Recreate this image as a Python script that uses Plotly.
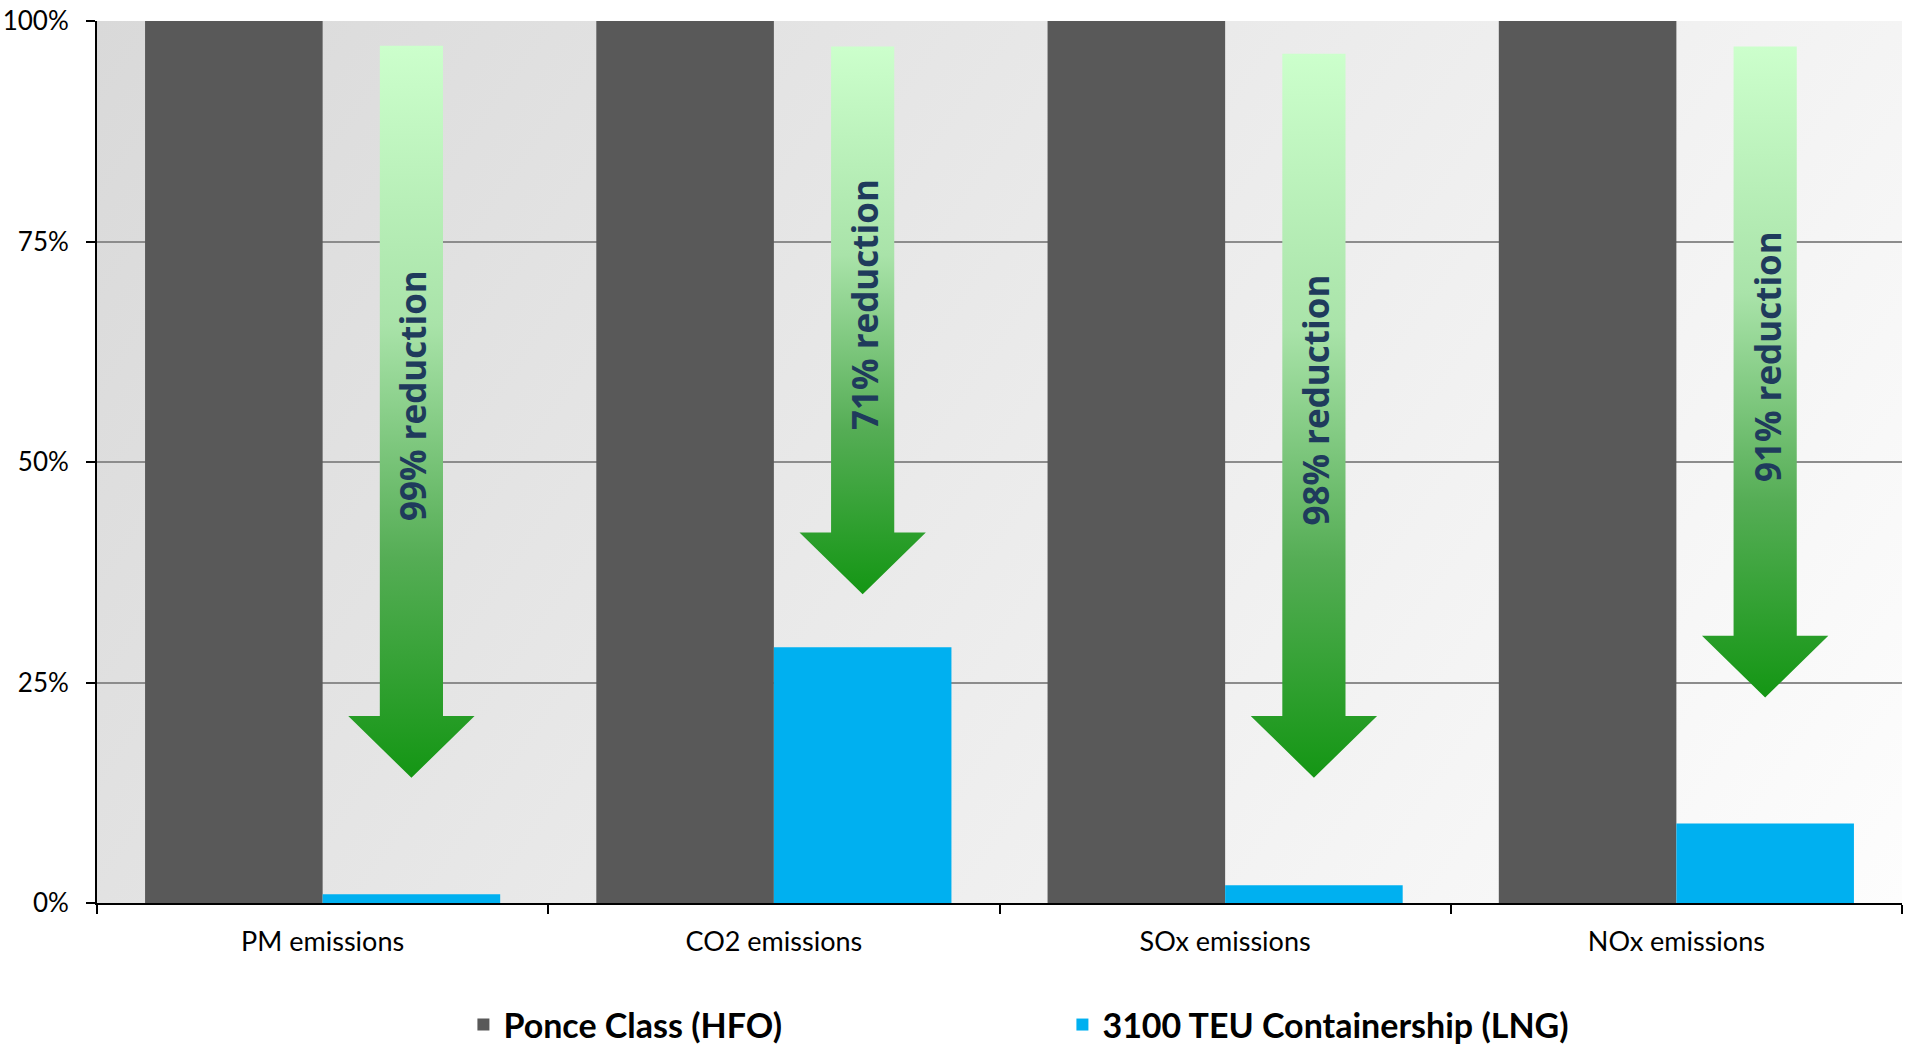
import base64
import plotly.graph_objects as go

# ---- data -------------------------------------------------------------
categories = ["PM emissions", "CO2 emissions", "SOx emissions", "NOx emissions"]
hfo_values = [100, 100, 100, 100]          # Ponce Class (HFO), baseline = 100 %
lng_values = [1, 29, 2, 9]                 # 3100 TEU Containership (LNG)
y_tick_values = [0, 25, 50, 75, 100]
y_tick_labels = ["0%", "25%", "50%", "75%", "100%"]

# reduction arrows (top of shaft and tip of head, in % on the y axis)
arrow_top = [97.2, 97.1, 96.3, 97.1]
arrow_tip = [14.2, 35.0, 14.2, 23.3]

series_names = ["Ponce Class (HFO)", "3100 TEU Containership (LNG)"]
series_colors = ["#595959", "#00b0f0"]

# ---- styling constants ------------------------------------------------
BAR_GAP = 0.213
BAR_WIDTH = (1 - BAR_GAP) / 2
SHAFT_HALF = 0.070
HEAD_HALF = 0.140
HEAD_LEN = 7.0
TEXT_FONT = "Lato, 'Open Sans', sans-serif"

x_pos = list(range(len(categories)))

fig = go.Figure()

# grouped bars
fig.add_trace(go.Bar(x=x_pos, y=hfo_values, name=series_names[0],
                     marker=dict(color=series_colors[0], line=dict(width=0))))
fig.add_trace(go.Bar(x=x_pos, y=lng_values, name=series_names[1],
                     marker=dict(color=series_colors[1], line=dict(width=0))))

# green gradient arrows above the LNG bars
green_scale = [[0.0, "#149614"], [0.3, "#55ad55"], [0.62, "#a9e3a9"], [1.0, "#ccffcc"]]
for i, (top, tip, lng) in enumerate(zip(arrow_top, arrow_tip, lng_values)):
    cx = i + BAR_WIDTH / 2
    base = tip + HEAD_LEN
    xs = [cx - SHAFT_HALF, cx + SHAFT_HALF, cx + SHAFT_HALF, cx + HEAD_HALF,
          cx, cx - HEAD_HALF, cx - SHAFT_HALF, cx - SHAFT_HALF]
    ys = [top, top, base, base, tip, base, base, top]
    fig.add_trace(go.Scatter(
        x=xs, y=ys, mode="lines", fill="toself",
        line=dict(width=0, color="rgba(0,0,0,0)"),
        fillgradient=dict(type="vertical", colorscale=green_scale),
        hoverinfo="skip", showlegend=False))
    fig.add_annotation(
        x=cx + 0.004, y=(top + base) / 2 - 1.7, xref="x", yref="y",
        text=f"{100 - lng}% reduction", textangle=-90, showarrow=False,
        font=dict(family="'Open Sans', sans-serif", size=35, color="#1f3b5c",
                  weight="bold"))

# soft diagonal grey background for the plotting area
svg = (
    '<svg xmlns="http://www.w3.org/2000/svg" width="1000" height="1000" '
    'viewBox="0 0 100 100" preserveAspectRatio="none">'
    '<defs><linearGradient id="g" x1="0" y1="0" x2="1.2" y2="0.4">'
    '<stop offset="0" stop-color="#d9d9d9"/>'
    '<stop offset="1" stop-color="#fdfdfd"/>'
    '</linearGradient></defs>'
    '<rect x="0" y="0" width="100" height="100" fill="url(#g)"/></svg>'
)
bg_src = "data:image/svg+xml;base64," + base64.b64encode(svg.encode()).decode()
fig.add_layout_image(dict(source=bg_src, xref="paper", yref="paper",
                          x=0, y=1, sizex=1, sizey=1, xanchor="left",
                          yanchor="top", sizing="stretch", layer="below"))

fig.update_layout(
    width=1905, height=1048,
    margin=dict(l=97, r=3, t=21, b=145, autoexpand=False),
    paper_bgcolor="white", plot_bgcolor="rgba(0,0,0,0)",
    barmode="group", bargap=BAR_GAP, bargroupgap=0,
    font=dict(family=TEXT_FONT, color="black"),
    showlegend=True,
    legend=dict(orientation="h", x=0.203, xanchor="left",
                yref="container", y=0.022, yanchor="middle",
                entrywidth=554, entrywidthmode="pixels",
                font=dict(family=TEXT_FONT, size=34, color="black", weight="bold"),
                bgcolor="rgba(0,0,0,0)", traceorder="normal"),
    xaxis=dict(range=[-0.5, len(categories) - 0.5], tickmode="array",
               tickvals=x_pos, ticktext=categories, ticks="", showgrid=False,
               zeroline=False, showline=True, linecolor="black", linewidth=2,
               tickfont=dict(family=TEXT_FONT, size=27, color="black"),
               ticklabelstandoff=14,
               minor=dict(tickmode="linear", tick0=-0.5, dtick=1, ticks="outside",
                          ticklen=9, tickwidth=2, tickcolor="black", showgrid=False)),
    yaxis=dict(range=[0, 100], tickmode="array", tickvals=y_tick_values,
               ticktext=y_tick_labels, ticks="outside", ticklen=9, tickwidth=2,
               tickcolor="black", showline=True, linecolor="black", linewidth=2,
               showgrid=True, gridcolor="#8c8c8c", gridwidth=2, zeroline=False,
               tickfont=dict(family=TEXT_FONT, size=26, color="black"),
               ticklabelstandoff=12),
)

fig.write_html("out.html")
